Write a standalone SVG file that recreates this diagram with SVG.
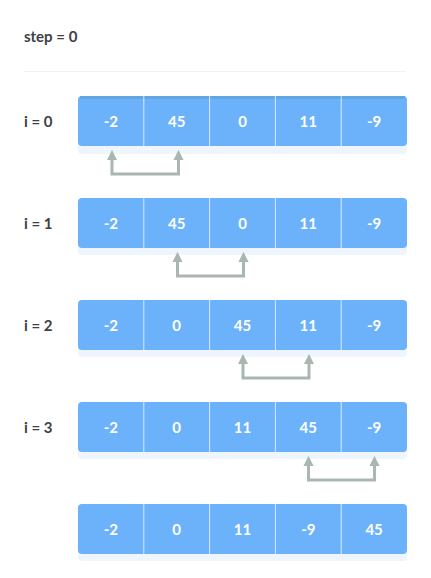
<svg xmlns="http://www.w3.org/2000/svg" width="431" height="578" viewBox="0 0 431 578">
<defs>
<style>
.lbl{font-family:Lato,"Liberation Sans",sans-serif;font-size:15px;font-weight:bold;fill:#3c4146}
.cell{font-family:Lato,"Liberation Sans",sans-serif;font-size:15px;font-weight:bold;fill:#ffffff;text-anchor:middle}
.box{fill:#6cb2fa}
.shadow{fill:#eef5fd}
.div{stroke:#ffffff;stroke-opacity:0.75;stroke-width:1}
.band{fill:#5a9fce;opacity:0.6}
.arr{fill:none;stroke:#a9b6b1;stroke-width:3}
</style>
<marker id="ah" viewBox="0 0 10 10" refX="5" refY="5" markerWidth="3.4" markerHeight="3.4" orient="auto-start-reverse" markerUnits="strokeWidth">
<path d="M0,10 L5,0 L10,10 Z" fill="#a9b6b1" transform="rotate(90 5 5)"/>
</marker>
</defs>
<rect width="431" height="578" fill="#ffffff"/>
<text class="lbl" x="24" y="42">step = 0</text>
<line x1="24" y1="71.5" x2="406" y2="71.5" stroke="#eef4f6" stroke-width="1"/>

<g id="row0">
<text class="lbl" x="24" y="127">i = 0</text>
<rect class="shadow" x="78" y="140" width="329" height="14" rx="4"/>
<rect class="box" x="78" y="96" width="329" height="50" rx="4"/>
<rect class="band" x="80" y="96" width="325" height="3"/>
<line class="div" x1="143.8" y1="96" x2="143.8" y2="146"/>
<line class="div" x1="209.6" y1="96" x2="209.6" y2="146"/>
<line class="div" x1="275.4" y1="96" x2="275.4" y2="146"/>
<line class="div" x1="341.2" y1="96" x2="341.2" y2="146"/>
<text class="cell" x="110.9" y="126.5">-2</text>
<text class="cell" x="176.7" y="126.5">45</text>
<text class="cell" x="242.5" y="126.5">0</text>
<text class="cell" x="308.3" y="126.5">11</text>
<text class="cell" x="374.1" y="126.5">-9</text>
</g>

<g id="row1">
<text class="lbl" x="24" y="229">i = 1</text>
<rect class="shadow" x="78" y="242" width="329" height="13" rx="4"/>
<rect class="box" x="78" y="198" width="329" height="50" rx="4"/>
<line class="div" x1="143.8" y1="198" x2="143.8" y2="248"/>
<line class="div" x1="209.6" y1="198" x2="209.6" y2="248"/>
<line class="div" x1="275.4" y1="198" x2="275.4" y2="248"/>
<line class="div" x1="341.2" y1="198" x2="341.2" y2="248"/>
<text class="cell" x="110.9" y="228.5">-2</text>
<text class="cell" x="176.7" y="228.5">45</text>
<text class="cell" x="242.5" y="228.5">0</text>
<text class="cell" x="308.3" y="228.5">11</text>
<text class="cell" x="374.1" y="228.5">-9</text>
</g>

<g id="row2">
<text class="lbl" x="24" y="331">i = 2</text>
<rect class="shadow" x="78" y="344" width="329" height="13" rx="4"/>
<rect class="box" x="78" y="300" width="329" height="50" rx="4"/>
<line class="div" x1="143.8" y1="300" x2="143.8" y2="350"/>
<line class="div" x1="209.6" y1="300" x2="209.6" y2="350"/>
<line class="div" x1="275.4" y1="300" x2="275.4" y2="350"/>
<line class="div" x1="341.2" y1="300" x2="341.2" y2="350"/>
<text class="cell" x="110.9" y="330.5">-2</text>
<text class="cell" x="176.7" y="330.5">0</text>
<text class="cell" x="242.5" y="330.5">45</text>
<text class="cell" x="308.3" y="330.5">11</text>
<text class="cell" x="374.1" y="330.5">-9</text>
</g>

<g id="row3">
<text class="lbl" x="24" y="433">i = 3</text>
<rect class="shadow" x="78" y="446" width="329" height="13" rx="4"/>
<rect class="box" x="78" y="402" width="329" height="50" rx="4"/>
<line class="div" x1="143.8" y1="402" x2="143.8" y2="452"/>
<line class="div" x1="209.6" y1="402" x2="209.6" y2="452"/>
<line class="div" x1="275.4" y1="402" x2="275.4" y2="452"/>
<line class="div" x1="341.2" y1="402" x2="341.2" y2="452"/>
<text class="cell" x="110.9" y="432.5">-2</text>
<text class="cell" x="176.7" y="432.5">0</text>
<text class="cell" x="242.5" y="432.5">11</text>
<text class="cell" x="308.3" y="432.5">45</text>
<text class="cell" x="374.1" y="432.5">-9</text>
</g>

<g id="row4">
<rect class="shadow" x="78" y="548" width="329" height="13" rx="4"/>
<rect class="box" x="78" y="504" width="329" height="50" rx="4"/>
<line class="div" x1="143.8" y1="504" x2="143.8" y2="554"/>
<line class="div" x1="209.6" y1="504" x2="209.6" y2="554"/>
<line class="div" x1="275.4" y1="504" x2="275.4" y2="554"/>
<line class="div" x1="341.2" y1="504" x2="341.2" y2="554"/>
<text class="cell" x="110.9" y="534.5">-2</text>
<text class="cell" x="176.7" y="534.5">0</text>
<text class="cell" x="242.5" y="534.5">11</text>
<text class="cell" x="308.3" y="534.5">-9</text>
<text class="cell" x="374.1" y="534.5">45</text>
</g>

<g id="connectors">
<path class="arr" d="M112,155 V174 H178.5 V155" marker-start="url(#ah)" marker-end="url(#ah)"/>
<path class="arr" d="M177.5,257 V276 H243.5 V257" marker-start="url(#ah)" marker-end="url(#ah)"/>
<path class="arr" d="M243,359 V378 H309 V359" marker-start="url(#ah)" marker-end="url(#ah)"/>
<path class="arr" d="M308.5,461 V480 H374.5 V461" marker-start="url(#ah)" marker-end="url(#ah)"/>
</g>
</svg>
